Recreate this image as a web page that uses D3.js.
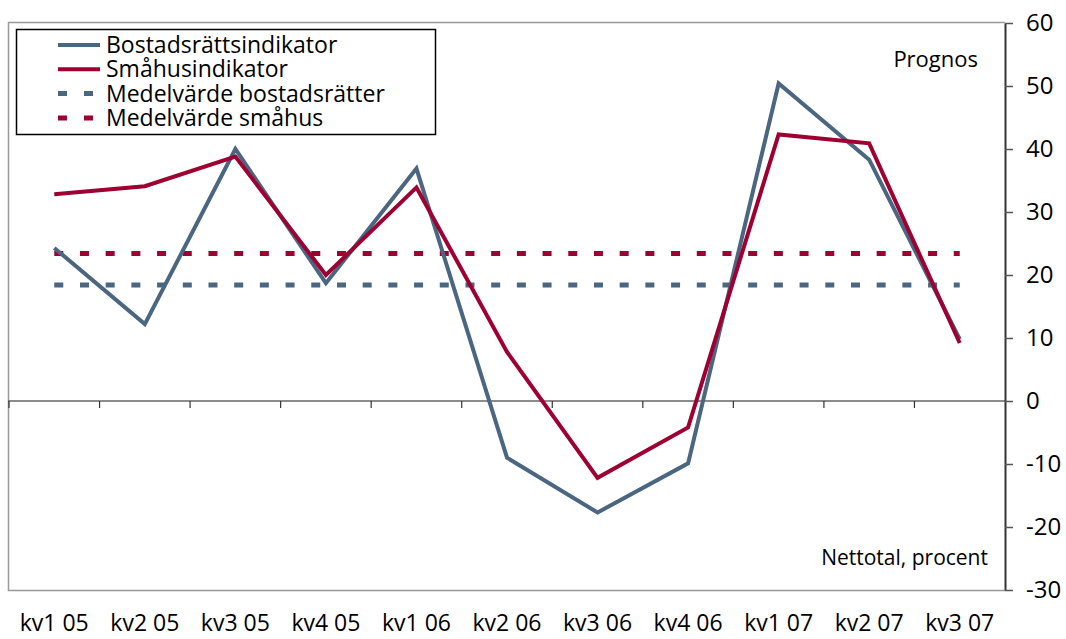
<!DOCTYPE html>
<html>
<head>
<meta charset="utf-8">
<script src="https://cdn.jsdelivr.net/npm/d3@7"></script>
<style>
  body { margin: 0; background: #fff; }
  svg { display: block; font-family: "Open Sans", sans-serif; }
</style>
</head>
<body>
<div id="chart"></div>
<script>
// Kvartal
var categories = ["kv1 05", "kv2 05", "kv3 05", "kv4 05", "kv1 06", "kv2 06",
                  "kv3 06", "kv4 06", "kv1 07", "kv2 07", "kv3 07"];
// Nettotal, procent
var bostadsratt = [24.3, 12.2, 40.0, 18.7, 36.9, -9.0, -17.7, -9.9, 50.4, 38.3, 9.8];
var smahus      = [32.8, 34.1, 38.8, 20.0, 33.9, 7.8, -12.2, -4.2, 42.3, 40.9, 9.2];
var meanBostadsratt = 18.4;
var meanSmahus = 23.4;
var yTicks = [60, 50, 40, 30, 20, 10, 0, -10, -20, -30];

var blue = "#4a6680", red = "#9e0032";

var width = 1066, height = 639;
var margin = {top: 23, right: 61, bottom: 49, left: 9};

var svg = d3.select("#chart")
  .append("svg")
    .attr("width", width)
    .attr("height", height);

var x = d3.scaleBand().domain(categories).range([margin.left, width - margin.right]);
var y = d3.scaleLinear().domain([-30, 60]).range([height - margin.bottom, margin.top]);
var cx = function(c) { return x(c) + x.bandwidth() / 2; };

// plot frame (light gray)
svg.append("path")
  .attr("d", "M" + (width - margin.right) + "," + (y(60) - 0.5) +
             "H" + (margin.left - 0.5) + "V" + (y(-30) + 0.5) + "H" + (width - margin.right))
  .attr("fill", "none")
  .attr("stroke", "#999")
  .attr("stroke-width", 1.5);

// zero line with category ticks
svg.append("line")
  .attr("x1", margin.left - 1).attr("x2", width - margin.right)
  .attr("y1", y(0)).attr("y2", y(0))
  .attr("stroke", "#666").attr("stroke-width", 1.5);
svg.selectAll(".xtick")
  .data(categories)
  .enter().append("line")
    .attr("x1", function(d) { return x(d); })
    .attr("x2", function(d) { return x(d); })
    .attr("y1", y(0)).attr("y2", y(0) + 7)
    .attr("stroke", "#333").attr("stroke-width", 1.2);

// right y axis
var yAxis = svg.append("g")
  .attr("transform", "translate(" + (width - margin.right) + ",0)")
  .call(d3.axisRight(y).tickValues(yTicks).tickSize(8).tickPadding(13).tickSizeOuter(0)
    .tickFormat(function(d) { return String(d); }));
yAxis.select(".domain").attr("stroke", "#333").attr("stroke-width", 2);
yAxis.selectAll(".tick line").attr("stroke", "#555").attr("stroke-width", 1.5);
yAxis.selectAll(".tick text")
  .attr("fill", "#000")
  .style("font-family", "Open Sans")
  .style("font-size", "24px");

// x labels
svg.selectAll(".xlabel")
  .data(categories)
  .enter().append("text")
    .attr("x", cx)
    .attr("y", 631)
    .attr("text-anchor", "middle")
    .style("font-size", "23px")
    .text(function(d) { return d; });

// mean lines
svg.append("line")
  .attr("x1", cx(categories[0])).attr("x2", cx(categories[categories.length - 1]))
  .attr("y1", y(meanSmahus)).attr("y2", y(meanSmahus))
  .attr("stroke", red).attr("stroke-width", 5)
  .attr("stroke-dasharray", "9,16.7");
svg.append("line")
  .attr("x1", cx(categories[0])).attr("x2", cx(categories[categories.length - 1]))
  .attr("y1", y(meanBostadsratt)).attr("y2", y(meanBostadsratt))
  .attr("stroke", blue).attr("stroke-width", 5)
  .attr("stroke-dasharray", "9,16.7");

// series lines
var line = d3.line()
  .x(function(d, i) { return cx(categories[i]); })
  .y(function(d) { return y(d); });

svg.append("path")
  .datum(bostadsratt)
  .attr("fill", "none")
  .attr("stroke", blue)
  .attr("stroke-width", 4)
  .attr("d", line);

svg.append("path")
  .datum(smahus)
  .attr("fill", "none")
  .attr("stroke", red)
  .attr("stroke-width", 4)
  .attr("d", line);

// annotations
svg.append("text")
  .attr("x", 978).attr("y", 67)
  .attr("text-anchor", "end")
  .style("font-size", "22px")
  .text("Prognos");

svg.append("text")
  .attr("x", 988).attr("y", 565)
  .attr("text-anchor", "end")
  .style("font-size", "21px")
  .text("Nettotal, procent");

// legend
var legendItems = [
  {label: "Bostadsrättsindikator", color: blue, dash: null},
  {label: "Småhusindikator", color: red, dash: null},
  {label: "Medelvärde bostadsrätter", color: blue, dash: "9,17"},
  {label: "Medelvärde småhus", color: red, dash: "9,17"}
];
var legend = svg.append("g");
legend.append("rect")
  .attr("x", 16.5).attr("y", 29.5)
  .attr("width", 419).attr("height", 105)
  .attr("fill", "#fff")
  .attr("stroke", "#000")
  .attr("stroke-width", 1.5);
var li = legend.selectAll(".item")
  .data(legendItems)
  .enter().append("g")
    .attr("transform", function(d, i) { return "translate(0," + (45 + i * 24.3) + ")"; });
li.append("line")
  .attr("x1", 58).attr("x2", 100)
  .attr("stroke", function(d) { return d.color; })
  .attr("stroke-width", function(d) { return d.dash ? 5 : 4; })
  .attr("stroke-dasharray", function(d) { return d.dash; });
li.append("text")
  .attr("x", 106).attr("y", 8)
  .style("font-size", "23px")
  .text(function(d) { return d.label; });
</script>
</body>
</html>
